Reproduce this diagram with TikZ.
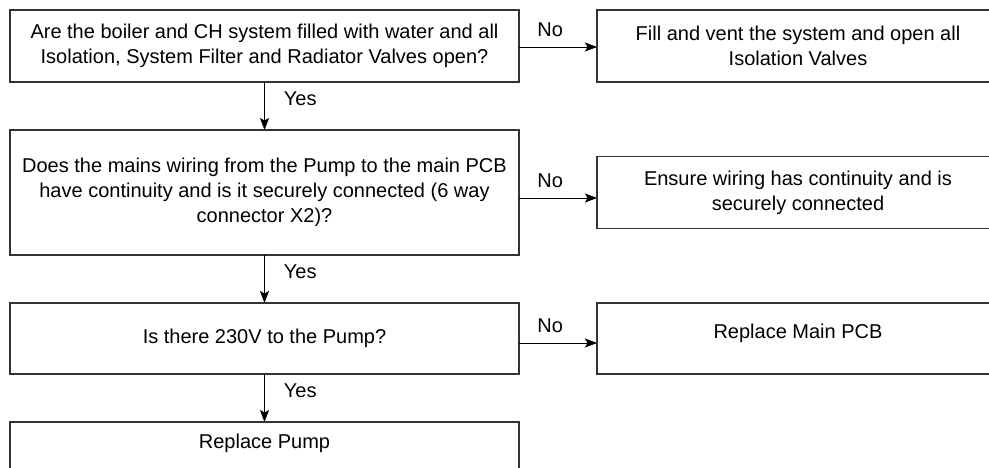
\documentclass[tikz,border=0pt]{standalone}
\usepackage{fontspec}
\setmainfont{Liberation Sans}
\usetikzlibrary{arrows.meta,positioning}
\tikzset{
  qbox/.style={rectangle, draw=black!80, line width=1.1pt, fill=white,
               align=center, inner sep=4pt, outer sep=0pt, minimum width=509pt,
               font=\fontsize{20}{25}\selectfont},
  abox/.style={qbox, minimum width=402pt},
  ar/.style={-{Stealth[length=12pt,width=9pt,inset=2.5pt]}, line width=0.9pt},
  lbl/.style={font=\fontsize{20}{24}\selectfont, inner sep=2pt}
}
\begin{document}
\begin{tikzpicture}[x=1pt, y=1pt, node distance=48pt and 78pt]
\useasboundingbox (0,0) rectangle (989,-468);
% questions
\node[qbox, minimum height=72pt] (q1) at (264.5,-46)
  {Are the boiler and CH system filled with water and all\\Isolation, System Filter and Radiator Valves open?};
\node[qbox, minimum height=125pt, below=of q1] (q2)
  {Does the mains wiring from the Pump to the main PCB\\have continuity and is it securely connected (6 way\\connector X2)?};
\node[qbox, minimum height=71pt, below=of q2] (q3) {Is there 230V to the Pump?};
\node[qbox, minimum height=71pt, text height=15pt, text depth=34pt, below=of q3] (q4) {Replace Pump};
% actions
\node[abox, minimum height=72pt, right=of q1] (r1)
  {Fill and vent the system and open all\\Isolation Valves};
\node[abox, minimum height=72pt, right=of q2] (r2)
  {Ensure wiring has continuity and is\\securely connected};
\node[abox, minimum height=71pt, text height=15pt, text depth=16pt, right=of q3] (r3) {Replace Main PCB};
% yes
\draw[ar] (q1) -- node[lbl, pos=0.35, right=17pt] {Yes} (q2);
\draw[ar] (q2) -- node[lbl, pos=0.35, right=17pt] {Yes} (q3);
\draw[ar] (q3) -- node[lbl, pos=0.35, right=17pt] {Yes} (q4);
% no
\draw[ar] ([yshift=-1pt]q1.east) -- node[lbl, pos=0.4, above=8pt] {No} ([yshift=-1pt]q1.east -| r1.west);
\draw[ar] ([yshift=-5.5pt]q2.east) -- node[lbl, pos=0.4, above=8pt] {No} ([yshift=-5.5pt]q2.east -| r2.west);
\draw[ar] ([yshift=-4.5pt]q3.east) -- node[lbl, pos=0.4, above=8pt] {No} ([yshift=-4.5pt]q3.east -| r3.west);
\end{tikzpicture}
\end{document}
